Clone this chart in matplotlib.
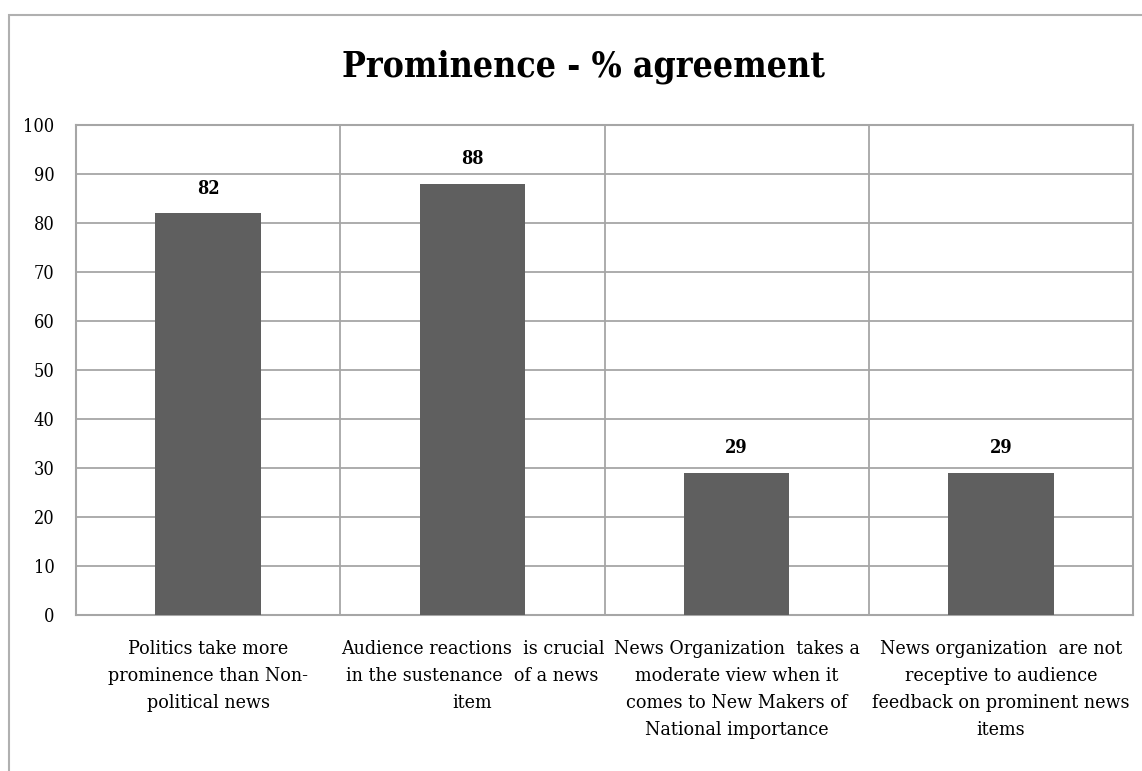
import matplotlib.pyplot as plt
from matplotlib.patches import Rectangle

categories = [
    "Politics take more\nprominence than Non-\npolitical news",
    "Audience reactions  is crucial\nin the sustenance  of a news\nitem",
    "News Organization  takes a\nmoderate view when it\ncomes to New Makers of\nNational importance",
    "News organization  are not\nreceptive to audience\nfeedback on prominent news\nitems",
]
agreement = [82, 88, 29, 29]
y_ticks = list(range(0, 101, 10))

FONT = "DejaVu Serif"
GRID = "#a6a6a6"

fig = plt.figure(figsize=(11.42, 7.71), dpi=100)
W, H = 1142, 771

# outer chart frame (runs past the right and bottom edges)
fig.patches.append(Rectangle((9 / W, -0.2), 1.2, 1.2 - 15 / H, transform=fig.transFigure,
                             fill=False, edgecolor="#b0b0b0", linewidth=1.5))

ax = fig.add_axes([76 / W, 1 - 615 / H, (1133 - 76) / W, (615 - 125) / H])
x = range(len(categories))
ax.bar(x, agreement, width=0.4, color="#5f5f5f", zorder=3)
for xi, v in zip(x, agreement):
    ax.text(xi, v + 3.2, f"{v}", ha="center", va="bottom", fontsize=13,
            fontweight="bold", family=FONT, fontstretch="condensed")

ax.set_xlim(-0.5, len(categories) - 0.5)
ax.set_ylim(0, 100)
ax.set_yticks(y_ticks)
ax.set_yticklabels([str(t) for t in y_ticks], family=FONT, fontstretch="condensed",
                   fontsize=13)
ax.set_xticks(list(x))
ax.set_xticklabels(categories, family=FONT, fontstretch="condensed", fontsize=14,
                   linespacing=1.65, va="top")
ax.tick_params(length=0)
ax.tick_params(axis="y", pad=15.5)
ax.tick_params(axis="x", pad=18)
ax.yaxis.grid(True, color=GRID, linewidth=1.3, zorder=0)
for b in [0.5, 1.5, 2.5]:
    ax.axvline(b, color=GRID, linewidth=1.3, zorder=0)
for s in ax.spines.values():
    s.set_color(GRID)
    s.set_linewidth(1.5)

fig.text(583 / W, 1 - 67 / H, "Prominence - % agreement", ha="center", va="center",
         fontsize=25.5, fontweight="bold", family=FONT, fontstretch="condensed")

fig.savefig("out.png", dpi=100)
